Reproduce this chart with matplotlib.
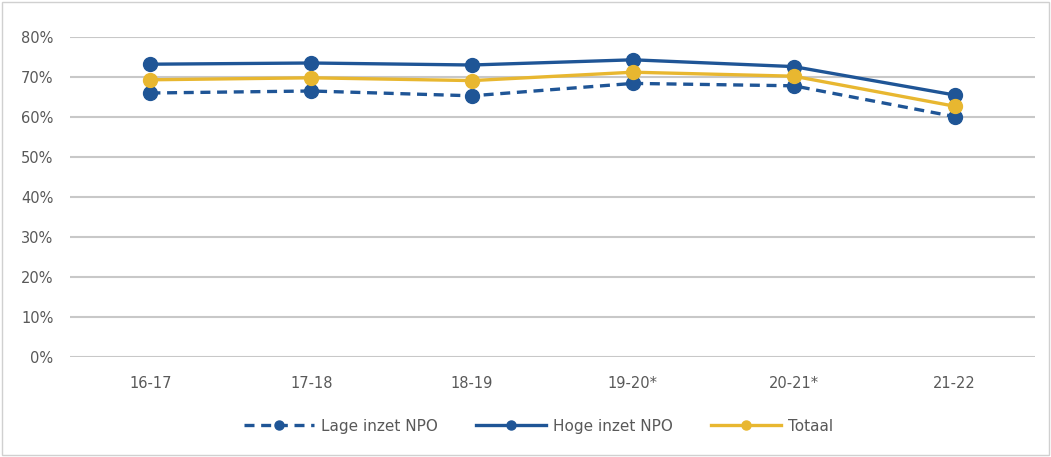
import matplotlib
matplotlib.use("Agg")
import matplotlib.pyplot as plt
import numpy as np

jaren = ["16-17", "17-18", "18-19", "19-20*", "20-21*", "21-22"]
lage = [66.0, 66.5, 65.3, 68.4, 67.8, 60.1]
hoge = [73.2, 73.5, 73.0, 74.3, 72.6, 65.5]
totaal = [69.3, 69.8, 69.1, 71.2, 70.2, 62.7]

blauw = "#1F5596"
geel = "#E8B730"
tekst = "#595959"

plt.rcParams['font.family'] = ['DejaVu Sans']

fig = plt.figure(figsize=(10.51, 4.57), dpi=100)
ax = fig.add_axes([70 / 1051, 100 / 457, 965 / 1051, 320 / 457])

x = np.arange(len(jaren))
ax.plot(x, lage, color=blauw, lw=2.4, ls=(0, (3, 2)), marker="o", ms=10,
        label="Lage inzet NPO", zorder=3)
ax.plot(x, hoge, color=blauw, lw=2.4, marker="o", ms=10,
        label="Hoge inzet NPO", zorder=4)
ax.plot(x, totaal, color=geel, lw=2.4, marker="o", ms=10,
        label="Totaal", zorder=5)

ax.set_xlim(-0.5, len(jaren) - 0.5)
ax.set_ylim(0, 80)
ax.set_yticks(range(0, 81, 10))
ax.set_yticklabels([f"{v}%" for v in range(0, 81, 10)])
ax.set_xticks(x)
ax.set_xticklabels(jaren)
ax.grid(axis="y", color="#C8C8C8", lw=1.5)
ax.set_axisbelow(True)
for s in ax.spines.values():
    s.set_visible(False)
ax.tick_params(length=0, colors=tekst, labelsize=10.5)
ax.tick_params(axis="x", pad=14)
ax.tick_params(axis="y", pad=12)

ax.legend(loc="center", bbox_to_anchor=(0.4855, -0.216), ncol=3, frameon=False,
          fontsize=11, labelcolor=tekst, handlelength=4.6, handletextpad=0.45,
          columnspacing=2.5, markerscale=0.65)

fig.patches.append(plt.Rectangle((0.002, 0.004), 0.996, 0.992, transform=fig.transFigure,
                                 fill=False, edgecolor="#D0D0D0", lw=1))

fig.savefig("out.png", dpi=100)
